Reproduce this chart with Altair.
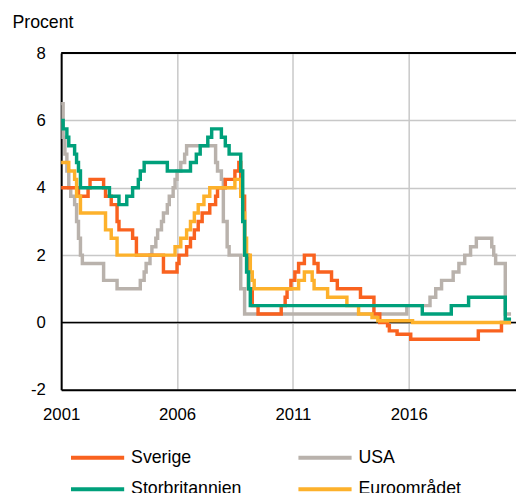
import altair as alt
import pandas as pd

series_names = ["Sverige", "USA", "Storbritannien", "Euroområdet"]
series_colors = ["#F9621F", "#B9B2AC", "#00A07B", "#FDB12B"]

sverige_dates = ["2001-01-01", "2001-10-01", "2002-03-01", "2002-04-01", "2002-11-01", "2002-12-01",
                 "2003-03-01", "2003-06-01", "2003-07-01", "2004-02-01", "2004-04-01", "2005-06-01",
                 "2006-01-01", "2006-02-01", "2006-06-01", "2006-08-01", "2006-10-01", "2006-12-01",
                 "2007-02-01", "2007-06-01", "2007-09-01", "2007-10-01", "2008-02-01", "2008-07-01",
                 "2008-09-01", "2008-10-01", "2008-12-01", "2009-02-01", "2009-04-01", "2009-07-01",
                 "2010-07-01", "2010-09-01", "2010-10-01", "2010-12-01", "2011-02-01", "2011-04-01",
                 "2011-07-01", "2011-12-01", "2012-02-01", "2012-09-01", "2012-12-01", "2013-12-01",
                 "2014-07-01", "2014-10-01", "2015-02-01", "2015-03-01", "2015-07-01", "2016-02-01",
                 "2019-01-01", "2020-01-01", "2020-05-31"]
sverige_values = [4.00, 3.75, 4.00, 4.25, 4.00, 3.75,
                  3.50, 3.00, 2.75, 2.50, 2.00, 1.50,
                  1.75, 2.00, 2.25, 2.50, 2.75, 3.00,
                  3.25, 3.50, 3.75, 4.00, 4.25, 4.50,
                  4.75, 3.75, 2.00, 1.00, 0.50, 0.25,
                  0.50, 0.75, 1.00, 1.25, 1.50, 1.75,
                  2.00, 1.75, 1.50, 1.25, 1.00, 0.75,
                  0.25, 0.00, -0.10, -0.25, -0.35, -0.50,
                  -0.25, 0.00, 0.00]

usa_dates = ["2001-01-01", "2001-02-01", "2001-03-01", "2001-04-01", "2001-05-01", "2001-06-01",
             "2001-08-01", "2001-09-01", "2001-10-01", "2001-11-01", "2001-12-01", "2002-11-01",
             "2003-06-01", "2004-06-01", "2004-08-01", "2004-09-01", "2004-11-01", "2004-12-01",
             "2005-02-01", "2005-03-01", "2005-05-01", "2005-06-01", "2005-08-01", "2005-09-01",
             "2005-11-01", "2005-12-01", "2006-01-01", "2006-03-01", "2006-05-01", "2006-06-01",
             "2007-09-01", "2007-10-01", "2007-12-01", "2008-01-01", "2008-03-01", "2008-04-01",
             "2008-10-01", "2008-12-01", "2015-12-01", "2016-12-01", "2017-03-01", "2017-06-01",
             "2017-12-01", "2018-03-01", "2018-06-01", "2018-09-01", "2018-12-01", "2019-08-01",
             "2019-09-01", "2019-10-01", "2020-03-01", "2020-05-31"]
usa_values = [6.50, 5.50, 5.00, 4.50, 4.00, 3.75,
              3.50, 3.00, 2.50, 2.00, 1.75, 1.25,
              1.00, 1.25, 1.50, 1.75, 2.00, 2.25,
              2.50, 2.75, 3.00, 3.25, 3.50, 3.75,
              4.00, 4.25, 4.50, 4.75, 5.00, 5.25,
              4.75, 4.50, 4.25, 3.00, 2.25, 2.00,
              1.00, 0.25, 0.50, 0.75, 1.00, 1.25,
              1.50, 1.75, 2.00, 2.25, 2.50, 2.25,
              2.00, 1.75, 0.25, 0.25]

uk_dates = ["2001-01-01", "2001-02-01", "2001-04-01", "2001-05-01", "2001-08-01", "2001-09-01",
            "2001-10-01", "2001-11-01", "2003-02-01", "2003-07-01", "2003-11-01", "2004-02-01",
            "2004-05-01", "2004-06-01", "2004-08-01", "2005-08-01", "2006-08-01", "2006-11-01",
            "2007-01-01", "2007-05-01", "2007-07-01", "2007-12-01", "2008-02-01", "2008-04-01",
            "2008-10-01", "2008-11-01", "2008-12-01", "2009-01-01", "2009-02-01", "2009-03-01",
            "2016-08-01", "2017-11-01", "2018-08-01", "2020-03-01", "2020-05-31"]
uk_values = [6.00, 5.75, 5.50, 5.25, 5.00, 4.75,
             4.50, 4.00, 3.75, 3.50, 3.75, 4.00,
             4.25, 4.50, 4.75, 4.50, 4.75, 5.00,
             5.25, 5.50, 5.75, 5.50, 5.25, 5.00,
             4.50, 3.00, 2.00, 1.50, 1.00, 0.50,
             0.25, 0.50, 0.75, 0.10, 0.10]

euro_dates = ["2001-01-01", "2001-05-01", "2001-08-01", "2001-09-01", "2001-11-01", "2002-12-01",
              "2003-03-01", "2003-06-01", "2005-12-01", "2006-03-01", "2006-06-01", "2006-08-01",
              "2006-10-01", "2006-12-01", "2007-03-01", "2007-06-01", "2008-07-01", "2008-10-01",
              "2008-11-01", "2008-12-01", "2009-01-01", "2009-03-01", "2009-04-01", "2009-05-01",
              "2011-04-01", "2011-07-01", "2011-11-01", "2011-12-01", "2012-07-01", "2013-05-01",
              "2013-11-01", "2014-06-01", "2014-09-01", "2016-03-01", "2020-05-31"]
euro_values = [4.75, 4.50, 4.25, 3.75, 3.25, 2.75,
               2.50, 2.00, 2.25, 2.50, 2.75, 3.00,
               3.25, 3.50, 3.75, 4.00, 4.25, 3.75,
               3.25, 2.50, 2.00, 1.50, 1.25, 1.00,
               1.25, 1.50, 1.25, 1.00, 0.75, 0.50,
               0.25, 0.15, 0.05, 0.00, 0.00]

x_tick_years = [2001, 2006, 2011, 2016]
y_ticks = [-2, 0, 2, 4, 6, 8]

# draw order (bottom to top)
frames = []
for name, d, v in [("USA", usa_dates, usa_values),
                   ("Sverige", sverige_dates, sverige_values),
                   ("Euroområdet", euro_dates, euro_values),
                   ("Storbritannien", uk_dates, uk_values)]:
    frames.append(pd.DataFrame({"datum": d, "ranta": v, "serie": name}))
df = pd.concat(frames, ignore_index=True)

FONT = "Liberation Sans"

x_enc = alt.X(
    "datum:T",
    scale=alt.Scale(domain=[alt.DateTime(year=2001, month=1, date=1),
                            alt.DateTime(year=2020, month=8, date=17)]),
    axis=alt.Axis(values=[alt.DateTime(year=y, month=1, date=1) for y in x_tick_years],
                  format="%Y", labelPadding=17, labelAlign="center"),
    title=None,
)
y_enc = alt.Y(
    "ranta:Q",
    scale=alt.Scale(domain=[-2, 8], nice=False, zero=False),
    axis=alt.Axis(values=y_ticks, labelPadding=16, labelExpr="'' + datum.value",
                  titleAngle=0, titleAlign="left",
                  titleBaseline="middle", titleX=-50, titleY=-31, titleFontSize=18,
                  titleFontWeight="normal", titleFont=FONT, titleColor="black"),
    title="Procent",
)

zero_df = pd.DataFrame({"ranta": [0]})
top_df = pd.DataFrame({"ranta": [8]})

zero_rule = alt.Chart(zero_df).mark_rule(color="black", strokeWidth=1.5).encode(y=y_enc)
top_rule = alt.Chart(top_df).mark_rule(color="black", strokeWidth=2).encode(y=y_enc)

lines = alt.Chart(df).mark_line(interpolate="step-after", strokeWidth=3.5).encode(
    x=x_enc,
    y=y_enc,
    color=alt.Color(
        "serie:N",
        scale=alt.Scale(domain=series_names, range=series_colors),
        legend=alt.Legend(title=None, orient="none", direction="horizontal",
                          legendX=20, legendY=394, columns=2,
                          columnPadding=49, rowPadding=6,
                          symbolType="M-1.8,0H1.8",
                          symbolSize=900, symbolStrokeWidth=4, labelFontSize=18,
                          labelFont=FONT, labelOffset=17, labelColor="black"),
    ),
)

chart = alt.layer(zero_rule, lines, top_rule).properties(
    width=462,
    height=342,
    padding={"left": 54, "top": 42, "right": 0, "bottom": 101},
    autosize=alt.AutoSizeParams(type="none"),
).configure_view(stroke=None).configure_axis(
    labelFont=FONT, labelFontSize=17, labelColor="black",
    domainColor="black", domainWidth=2, ticks=False,
    gridColor="#C8C8C8", gridWidth=1.5,
)

chart.save("out.html", embed_options={"renderer": "svg", "actions": False})
